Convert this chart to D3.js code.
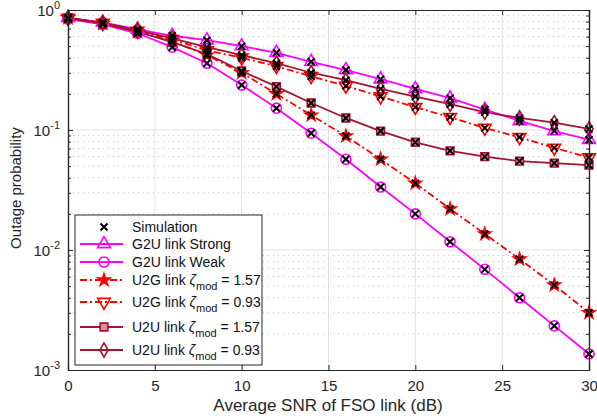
<!DOCTYPE html>
<html>
<head>
<meta charset="utf-8">
<script src="https://cdn.jsdelivr.net/npm/d3@7"></script>
<style>
body { margin: 0; background: #fff; }
text { font-family: "Liberation Sans", Arial, sans-serif; }
</style>
</head>
<body>
<div class="box"></div>
<script>
// donnees
const snr = [0, 2, 4, 6, 8, 10, 12, 14, 16, 18, 20, 22, 24, 26, 28, 30]
const g2uStrong = [0.86, 0.79, 0.69, 0.61, 0.56, 0.50, 0.44, 0.37, 0.316, 0.265, 0.22, 0.184, 0.148, 0.119, 0.098, 0.083]
const g2uWeak = [0.84, 0.76, 0.64, 0.49, 0.36, 0.237, 0.152, 0.094, 0.057, 0.0335, 0.020, 0.0117, 0.0069, 0.0040, 0.00233, 0.00136]
const u2g157 = [0.86, 0.77, 0.66, 0.55, 0.42, 0.30, 0.20, 0.133, 0.089, 0.057, 0.036, 0.022, 0.0136, 0.0084, 0.0051, 0.0030]
const u2g093 = [0.86, 0.78, 0.67, 0.57, 0.46, 0.40, 0.34, 0.28, 0.233, 0.19, 0.155, 0.128, 0.104, 0.087, 0.071, 0.059]
const u2u157 = [0.86, 0.77, 0.66, 0.54, 0.43, 0.31, 0.23, 0.168, 0.126, 0.098, 0.079, 0.067, 0.060, 0.055, 0.053, 0.051]
const u2u093 = [0.86, 0.78, 0.68, 0.58, 0.49, 0.42, 0.36, 0.30, 0.26, 0.22, 0.19, 0.164, 0.141, 0.126, 0.115, 0.102]
const xTicks = [0, 5, 10, 15, 20, 25, 30]
const yTicks = [1e-3, 1e-2, 1e-1, 1]

const series = [
	{name: 'G2U link Strong', vals: g2uStrong, color: '#ff00ff', dash: null, sym: 'tri'},
	{name: 'G2U link Weak', vals: g2uWeak, color: '#ff00ff', dash: null, sym: 'circle'},
	{name: 'U2G link', zeta: '1.57', vals: u2g157, color: '#ff0000', dash: '7,3,2,3', sym: 'star'},
	{name: 'U2G link', zeta: '0.93', vals: u2g093, color: '#ff0000', dash: '7,3,2,3', sym: 'tridown'},
	{name: 'U2U link', zeta: '1.57', vals: u2u157, color: '#a2142f', dash: null, sym: 'square'},
	{name: 'U2U link', zeta: '0.93', vals: u2u093, color: '#a2142f', dash: null, sym: 'diamond'}
]

const W = 597, H = 418
const margin = {top: 10, right: 8, bottom: 48, left: 68}
const gw = W - margin.left - margin.right
const gh = H - margin.top - margin.bottom

const svg = d3.select('.box').append('svg')
	.attr('width', W).attr('height', H)

const graph = svg.append('g')
	.attr('transform', `translate(${margin.left}, ${margin.top})`)

const x = d3.scaleLinear().domain([0, 30]).range([0, gw])
const y = d3.scaleLog().domain([1e-3, 1]).range([gh, 0])

// grille mineure (pointillés)
const minors = []
for (let e = -3; e < 0; e++) for (let k = 2; k <= 9; k++) minors.push(k * Math.pow(10, e))
graph.append('g').selectAll('line').data(minors).enter().append('line')
	.attr('x1', 0).attr('x2', gw)
	.attr('y1', d => y(d)).attr('y2', d => y(d))
	.attr('stroke', '#c8c8c8').attr('stroke-width', 1)
	.attr('stroke-dasharray', '1,4')
// grille majeure
graph.append('g').selectAll('line').data(xTicks.slice(1, -1)).enter().append('line')
	.attr('x1', d => x(d)).attr('x2', d => x(d))
	.attr('y1', 0).attr('y2', gh)
	.attr('stroke', '#e3e3e3').attr('stroke-width', 1)
graph.append('g').selectAll('line').data(yTicks.slice(1, -1)).enter().append('line')
	.attr('x1', 0).attr('x2', gw)
	.attr('y1', d => y(d)).attr('y2', d => y(d))
	.attr('stroke', '#e3e3e3').attr('stroke-width', 1)

// symboles
const symPath = {
	tri: d3.symbol().type(d3.symbolTriangle).size(70),
	circle: d3.symbol().type(d3.symbolCircle).size(80),
	star: d3.symbol().type(d3.symbolStar).size(45),
	tridown: d3.symbol().type(d3.symbolTriangle).size(70),
	square: d3.symbol().type(d3.symbolSquare).size(60),
	diamond: d3.symbol().type(d3.symbolDiamond).size(60)
}
function drawMarker(g, s, px, py) {
	const p = g.append('path').attr('d', symPath[s.sym]())
		.attr('transform', `translate(${px},${py})` + (s.sym === 'tridown' ? ' rotate(180)' : ''))
		.attr('stroke', s.color).attr('stroke-width', 1.6)
	if (s.sym === 'star') p.attr('fill', s.color)
	else if (s.sym === 'square') p.attr('fill', '#d8909c')
	else p.attr('fill', 'none')
}
function drawCross(g, px, py) {
	g.append('path').attr('d', `M${px - 3.5},${py - 3.5}L${px + 3.5},${py + 3.5}M${px - 3.5},${py + 3.5}L${px + 3.5},${py - 3.5}`)
		.attr('stroke', '#000').attr('stroke-width', 2)
}

const line = d3.line().x((d, i) => x(snr[i])).y(d => y(d))
series.forEach(s => {
	graph.append('path').datum(s.vals)
		.attr('d', line)
		.attr('fill', 'none').attr('stroke', s.color).attr('stroke-width', 1.8)
		.attr('stroke-dasharray', s.dash)
})
series.forEach(s => {
	const g = graph.append('g')
	s.vals.forEach((v, i) => drawMarker(g, s, x(snr[i]), y(v)))
})
series.forEach(s => {
	const g = graph.append('g')
	s.vals.forEach((v, i) => drawCross(g, x(snr[i]), y(v)))
})

// axes style matlab (ticks vers l'intérieur)
const axisColor = '#262626'
const axeX = d3.axisBottom(x).tickValues(xTicks).tickSize(-5).tickPadding(10)
const axeXTop = d3.axisTop(x).tickValues(xTicks).tickSize(-5).tickFormat('')
const axeY = d3.axisLeft(y).tickValues(yTicks).tickSize(-5).tickFormat('')
const axeYRight = d3.axisRight(y).tickValues(yTicks).tickSize(-5).tickFormat('')
const minorL = d3.axisLeft(y).tickValues(minors).tickSize(-3).tickFormat('')
const minorR = d3.axisRight(y).tickValues(minors).tickSize(-3).tickFormat('')

const gx = graph.append('g').attr('transform', `translate(0, ${gh})`).call(axeX)
graph.append('g').call(axeXTop)
graph.append('g').call(axeY)
graph.append('g').attr('transform', `translate(${gw}, 0)`).call(axeYRight)
graph.append('g').call(minorL)
graph.append('g').attr('transform', `translate(${gw}, 0)`).call(minorR)
graph.selectAll('.domain').attr('stroke', axisColor).attr('stroke-width', 1.2)
graph.selectAll('.tick line').attr('stroke', axisColor)
gx.selectAll('text').style('font-size', '15px').attr('fill', axisColor)

// etiquettes y 10^n
yTicks.forEach(t => {
	const e = Math.round(Math.log10(t))
	const tx = graph.append('text')
		.attr('x', -8).attr('y', y(t) + 6)
		.attr('text-anchor', 'end')
		.attr('fill', axisColor).style('font-size', '15px')
	tx.append('tspan').text('10')
	tx.append('tspan').attr('dy', -7).style('font-size', '11px').text(e)
})

// titres des axes
svg.append('text')
	.attr('x', 328).attr('y', 411)
	.attr('text-anchor', 'middle').attr('fill', axisColor)
	.style('font-size', '17px')
	.text('Average SNR of FSO link (dB)')
svg.append('text')
	.attr('transform', `translate(21, 188) rotate(-90)`)
	.attr('text-anchor', 'middle').attr('fill', axisColor)
	.style('font-size', '15px')
	.text('Outage probability')

// legende
const leg = svg.append('g').attr('transform', 'translate(75, 215)')
leg.append('rect').attr('width', 187).attr('height', 150)
	.attr('fill', '#fff').attr('stroke', axisColor).attr('stroke-width', 1)
const rowsY = [12, 29, 47, 65, 87, 112, 135]
drawCross(leg, 29, rowsY[0])
leg.append('text').attr('x', 57).attr('y', rowsY[0] + 5)
	.style('font-size', '14px').attr('fill', '#111').text('Simulation')
series.forEach((s, i) => {
	const ry = rowsY[i + 1]
	leg.append('line').attr('x1', 5).attr('x2', 48).attr('y1', ry).attr('y2', ry)
		.attr('stroke', s.color).attr('stroke-width', 1.8)
		.attr('stroke-dasharray', s.dash)
	drawMarker(leg, s, 29, ry)
	const t = leg.append('text').attr('x', 57).attr('y', ry + 5)
		.style('font-size', '14px').attr('fill', '#111')
	if (s.zeta) {
		t.append('tspan').text(s.name + ' ')
		t.append('tspan').style('font-style', 'italic').text('ζ')
		t.append('tspan').attr('dy', 5).style('font-size', '11px').text('mod')
		t.append('tspan').attr('dy', -5).text(' = ' + s.zeta)
	} else {
		t.text(s.name)
	}
})
</script>
</body>
</html>
